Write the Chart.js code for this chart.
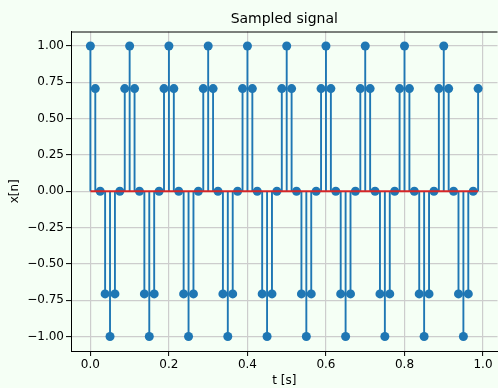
<!DOCTYPE html>
<html>
<head>
<meta charset="utf-8">
<script src="https://cdn.jsdelivr.net/npm/chart.js@4"></script>
<style>
  html, body { margin: 0; padding: 0; background: #f5fff5; overflow: hidden; }
  #wrap { width: 502px; height: 388px; }
</style>
</head>
<body>
<div id="wrap"><canvas id="chart" width="502" height="388"></canvas></div>
<script>
// sample times (s)
const tValues = [
  0, 0.0125, 0.025, 0.0375, 0.05, 0.0625, 0.075, 0.0875,
  0.1, 0.1125, 0.125, 0.1375, 0.15, 0.1625, 0.175, 0.1875,
  0.2, 0.2125, 0.225, 0.2375, 0.25, 0.2625, 0.275, 0.2875,
  0.3, 0.3125, 0.325, 0.3375, 0.35, 0.3625, 0.375, 0.3875,
  0.4, 0.4125, 0.425, 0.4375, 0.45, 0.4625, 0.475, 0.4875,
  0.5, 0.5125, 0.525, 0.5375, 0.55, 0.5625, 0.575, 0.5875,
  0.6, 0.6125, 0.625, 0.6375, 0.65, 0.6625, 0.675, 0.6875,
  0.7, 0.7125, 0.725, 0.7375, 0.75, 0.7625, 0.775, 0.7875,
  0.8, 0.8125, 0.825, 0.8375, 0.85, 0.8625, 0.875, 0.8875,
  0.9, 0.9125, 0.925, 0.9375, 0.95, 0.9625, 0.975, 0.9875
];

// sampled values x[n]
const xValues = [
  1, 0.707, 0, -0.707, -1, -0.707, 0, 0.707,
  1, 0.707, 0, -0.707, -1, -0.707, 0, 0.707,
  1, 0.707, 0, -0.707, -1, -0.707, 0, 0.707,
  1, 0.707, 0, -0.707, -1, -0.707, 0, 0.707,
  1, 0.707, 0, -0.707, -1, -0.707, 0, 0.707,
  1, 0.707, 0, -0.707, -1, -0.707, 0, 0.707,
  1, 0.707, 0, -0.707, -1, -0.707, 0, 0.707,
  1, 0.707, 0, -0.707, -1, -0.707, 0, 0.707,
  1, 0.707, 0, -0.707, -1, -0.707, 0, 0.707,
  1, 0.707, 0, -0.707, -1, -0.707, 0, 0.707
];

const xTicks = [0, 0.2, 0.4, 0.6, 0.8, 1.0];
const yTicks = [-1, -0.75, -0.5, -0.25, 0, 0.25, 0.5, 0.75, 1];

const titleText = "Sampled signal";
const xLabel = "t [s]";
const yLabel = "x[n]";

const FONT = "'DejaVu Sans', sans-serif";

// stems: vertical segments from 0 to each value, split by nulls
let stemPoints = [];
for (let i = 0; i < tValues.length; i++) {
    stemPoints.push({ x: tValues[i], y: 0 });
    stemPoints.push({ x: tValues[i], y: xValues[i] });
    stemPoints.push({ x: tValues[i], y: null });
}
let markerPoints = tValues.map((t, i) => ({ x: t, y: xValues[i] }));
let basePoints = [
    { x: tValues[0], y: 0 },
    { x: tValues[tValues.length - 1], y: 0 }
];

const fmtMinus = (v, d) => (v < 0 ? "\u2212" : "") + Math.abs(v).toFixed(d);

// title centred on the axes + top spine
const framePlugin = {
    id: "frame",
    afterDraw(chart) {
        const { ctx, chartArea } = chart;
        ctx.save();
        ctx.strokeStyle = "#000";
        ctx.lineWidth = 1;
        ctx.beginPath();
        ctx.moveTo(chartArea.left, chartArea.top + 0.5);
        ctx.lineTo(chartArea.right, chartArea.top + 0.5);
        ctx.stroke();
        ctx.fillStyle = "#000";
        ctx.font = "14px " + FONT;
        ctx.textAlign = "center";
        ctx.textBaseline = "alphabetic";
        ctx.fillText(titleText, (chartArea.left + chartArea.right) / 2, 22.5);
        ctx.restore();
    }
};

const tMin = -0.049375;
const tMax = 1.036875;

new Chart(document.getElementById("chart"), {
    type: "line",
    data: {
        datasets: [{
            label: "baseline",
            data: basePoints,
            borderColor: "#d62728",
            borderWidth: 1.8,
            pointRadius: 0,
            order: 0
        }, {
            label: "markers",
            data: markerPoints,
            showLine: false,
            pointRadius: 4.5,
            pointBackgroundColor: "#1f77b4",
            pointBorderWidth: 0,
            order: 1
        }, {
            label: "stems",
            data: stemPoints,
            borderColor: "#1f77b4",
            borderWidth: 1.9,
            pointRadius: 0,
            spanGaps: false,
            order: 2
        }]
    },
    options: {
        responsive: false,
        animation: false,
        devicePixelRatio: 1,
        layout: { padding: { top: 31.5, left: 8, right: 2, bottom: 0 } },
        plugins: {
            legend: { display: false },
            tooltip: { enabled: false },
            title: { display: false }
        },
        scales: {
            x: {
                type: "linear",
                min: tMin,
                max: tMax,
                afterBuildTicks: (scale) => { scale.ticks = xTicks.map(v => ({ value: v })); },
                afterFit: (scale) => { scale.height = 37; },
                ticks: {
                    color: "#000",
                    font: { family: FONT, size: 12 },
                    padding: 2,
                    maxRotation: 0,
                    callback: (v) => fmtMinus(v, 1)
                },
                grid: { color: "#cdcdcd", lineWidth: 1.2, tickLength: 5, tickColor: "#000", tickWidth: 1 },
                border: { display: true, color: "#000", width: 1 },
                title: {
                    display: true,
                    text: xLabel,
                    color: "#000",
                    font: { family: FONT, size: 12 },
                    padding: { top: 2, bottom: 0 }
                }
            },
            y: {
                min: -1.1,
                max: 1.1,
                afterBuildTicks: (scale) => { scale.ticks = yTicks.map(v => ({ value: v })); },
                afterFit: (scale) => { scale.width = 63; },
                ticks: {
                    color: "#000",
                    font: { family: FONT, size: 12 },
                    padding: 2,
                    callback: (v) => fmtMinus(v, 2)
                },
                grid: { color: "#cdcdcd", lineWidth: 1.2, tickLength: 5, tickColor: "#000", tickWidth: 1 },
                border: { display: true, color: "#000", width: 1 },
                title: {
                    display: true,
                    text: yLabel,
                    color: "#000",
                    font: { family: FONT, size: 12 },
                    padding: { top: 0, bottom: 0 }
                }
            }
        }
    },
    plugins: [framePlugin]
});
</script>
</body>
</html>
